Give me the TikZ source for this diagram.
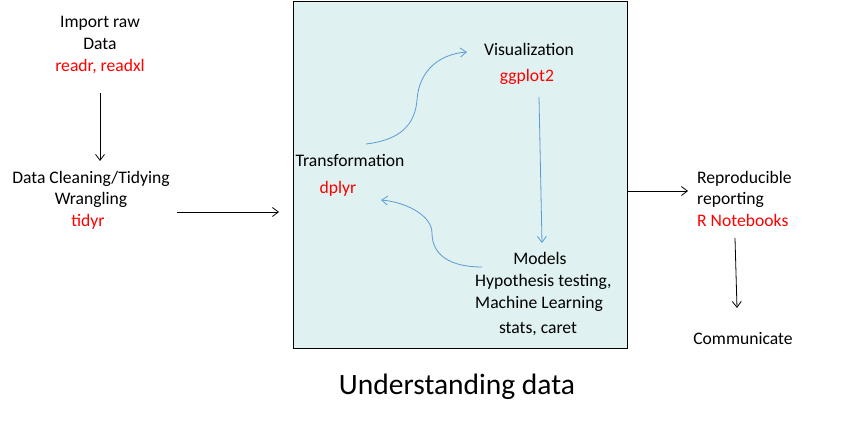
\documentclass[tikz,border=0pt]{standalone}
\usepackage{fontspec}
\setmainfont{Carlito}
\usetikzlibrary{arrows.meta}
\definecolor{boxfill}{RGB}{223,241,240}
\definecolor{flowblue}{RGB}{91,155,213}
\definecolor{pkgred}{RGB}{255,0,0}
\tikzset{
  lbl/.style={font=\fontsize{17.6}{17.6}\selectfont, inner sep=0pt, anchor=center, text height=12.5pt, text depth=3.5pt, yshift=-2pt},
  pkg/.style={lbl, text=pkgred, yshift=-1pt},
  blk/.style={-{Straight Barb[length=6pt,width=9pt]}, line width=0.8pt, black},
  blu/.style={-{Straight Barb[length=6pt,width=9pt]}, line width=0.8pt, flowblue},
}
\begin{document}
\begin{tikzpicture}[x=1pt,y=-1pt]
\useasboundingbox (0,0) rectangle (847,425);
\node[draw=black, fill=boxfill, line width=0.8pt, minimum width=334pt, minimum height=347pt, inner sep=0pt, anchor=north west] (box) at (293,1) {};
% left column
\node[lbl] (imp1) at (100,21) {Import raw};
\node[lbl] (imp2) at (100,43) {Data};
\node[pkg] (imp3) at (100,64) {readr, readxl};
\node[lbl] (cl1) at (91,177) {Data Cleaning/Tidying};
\node[lbl] (cl2) at (91,198) {Wrangling};
\node[pkg] (cl3) at (88,219) {tidyr};
\coordinate (a1s) at (100,93);
\coordinate (a1e) at (100,161);
\draw[blk] (a1s) -- (a1e);
\coordinate (a2s) at (177,212);
\coordinate (a2e) at (279,212);
\draw[blk] (a2s) -- (a2e);
% inside box
\node[lbl] (tr1) at (350,160) {Transformation};
\node[pkg] (tr2) at (338,186) {dplyr};
\node[lbl] (vi1) at (529,49) {Visualization};
\node[pkg] (vi2) at (527,74) {ggplot2};
\node[lbl] (mo1) at (540,258) {Models};
\node[lbl, anchor=west] (mo2) at (475,280) {Hypothesis testing,};
\node[lbl, anchor=west] (mo3) at (475,302) {Machine Learning};
\node[lbl] (mo4) at (538,327) {stats, caret};
\coordinate (b1s) at (366,144);
\coordinate (b1e) at (467,52);
\draw[blu] (b1s) .. controls (400,140) and (415,125) .. (417,100) .. controls (419,70) and (440,54) .. (b1e);
\coordinate (b2s) at (539,97);
\coordinate (b2e) at (542,243);
\draw[blu] (b2s) -- (b2e);
\coordinate (b3s) at (482,267);
\coordinate (b3e) at (381,200);
\draw[blu] (b3s) .. controls (450,267) and (432,255) .. (432,233) .. controls (432,215) and (405,202) .. (b3e);
% right column
\coordinate (a3s) at (627,191);
\coordinate (a3e) at (688,191);
\draw[blk] (a3s) -- (a3e);
\node[lbl, anchor=west] (re1) at (697,177) {Reproducible};
\node[lbl, anchor=west] (re2) at (697,198) {reporting};
\node[pkg, anchor=west] (re3) at (697,219) {R Notebooks};
\coordinate (a4s) at (735,238);
\coordinate (a4e) at (737,308);
\draw[blk] (a4s) -- (a4e);
\node[lbl] (co) at (743,338) {Communicate};
\node[font=\fontsize{29.5}{29.5}\selectfont, inner sep=0pt] (ti) at (457,387) {Understanding data};
\end{tikzpicture}
\end{document}
